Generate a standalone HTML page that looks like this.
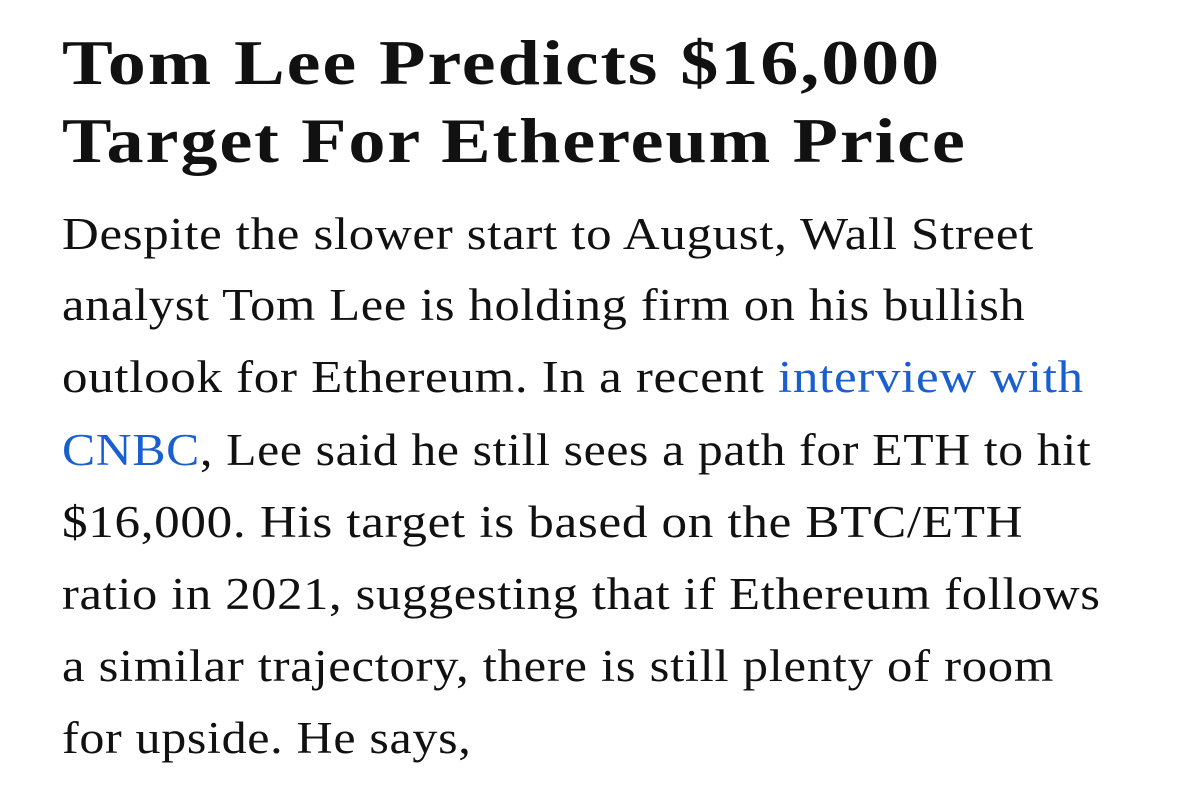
<!DOCTYPE html>
<html>
<head>
<meta charset="utf-8">
<style>
  html,body{margin:0;padding:0;background:#fff;}
  body{width:1179px;height:794px;overflow:hidden;position:relative;}
  .h{position:absolute;left:62px;font-family:"Liberation Serif",serif;font-weight:bold;font-size:64px;color:#111;white-space:nowrap;letter-spacing:1.6px;line-height:78px;transform-origin:0 0;}
  .p{position:absolute;left:62px;font-family:"Liberation Serif",serif;font-size:45px;color:#111;white-space:nowrap;letter-spacing:0.6px;line-height:72px;transform-origin:0 0;}
  a{color:#1a5fd0;text-decoration:none;}
</style>
</head>
<body>
<div>
  <div class="h" style="top:24px;transform:scaleX(1.19)">Tom Lee Predicts $16,000</div>
  <div class="h" style="top:102px;transform:scaleX(1.16)">Target For Ethereum Price</div>
</div>
<div>
  <div class="p" style="top:198px;transform:scaleX(1.132)">Despite the slower start to August, Wall Street</div>
  <div class="p" style="top:269px;transform:scaleX(1.122)">analyst Tom Lee is holding firm on his bullish</div>
  <div class="p" style="top:341px;transform:scaleX(1.134)">outlook for Ethereum. In a recent <a>interview with</a></div>
  <div class="p" style="top:414px;transform:scaleX(1.104)"><a>CNBC</a>, Lee said he still sees a path for ETH to hit</div>
  <div class="p" style="top:486px;transform:scaleX(1.136)">$16,000. His target is based on the BTC/ETH</div>
  <div class="p" style="top:558px;transform:scaleX(1.123)">ratio in 2021, suggesting that if Ethereum follows</div>
  <div class="p" style="top:630px;transform:scaleX(1.129)">a similar trajectory, there is still plenty of room</div>
  <div class="p" style="top:702px;transform:scaleX(1.112)">for upside. He says,</div>
</div>
</body>
</html>
